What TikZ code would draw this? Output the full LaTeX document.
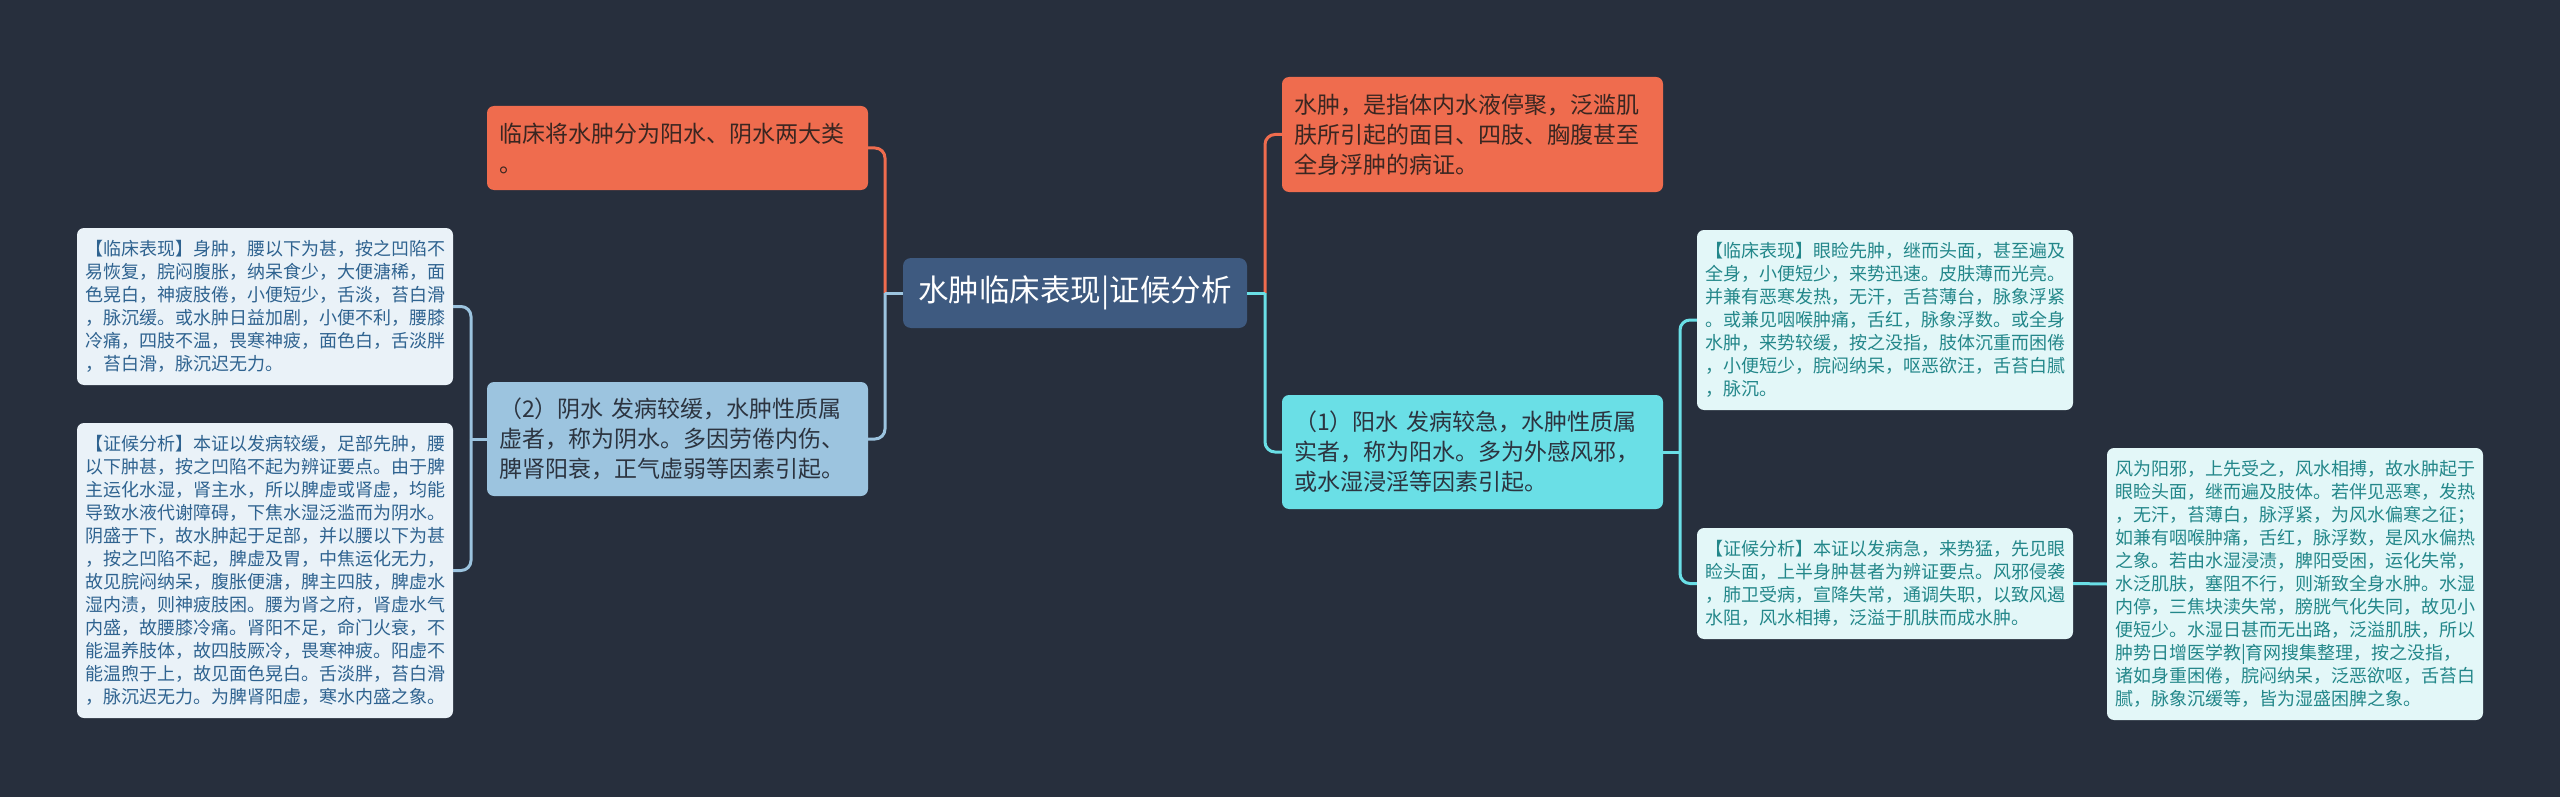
\documentclass[tikz,border=0pt]{standalone}
\usepackage{fontspec}
\setmainfont{Noto Sans CJK SC}
\definecolor{bg}{HTML}{272F3D}
\definecolor{cfill}{HTML}{3E5A80}
\definecolor{ofill}{HTML}{EF6C4E}
\definecolor{otext}{HTML}{3A2621}
\definecolor{bfill}{HTML}{9CC4DF}
\definecolor{btext}{HTML}{2C3440}
\definecolor{cyfill}{HTML}{6ADFE6}
\definecolor{lfill}{HTML}{EAF2F8}
\definecolor{ltext}{HTML}{2F6390}
\definecolor{rfill}{HTML}{E3F7F8}
\definecolor{rtext}{HTML}{23878A}
\tikzset{
  base/.style={rounded corners=7pt, inner sep=0pt, anchor=center},
  central/.style={base, fill=cfill, text=white, align=center, rounded corners=8pt,
    font=\fontsize{30.5pt}{36pt}\selectfont},
  midbox/.style={base, align=left, text width=357pt, minimum width=381pt,
    font=\fontsize{23pt}{30pt}\selectfont},
  obox/.style={midbox, fill=ofill, text=otext},
  bbox/.style={midbox, fill=bfill, text=btext},
  cbox/.style={midbox, fill=cyfill, text=btext},
  leaf/.style={base, align=left, text width=360pt, minimum width=376pt,
    font=\fontsize{18pt}{23pt}\selectfont},
  leafL/.style={leaf, fill=lfill, text=ltext},
  leafR/.style={leaf, fill=rfill, text=rtext},
  conn/.style={line width=3pt, rounded corners=10pt},
  oline/.style={conn, draw=ofill},
  bline/.style={conn, draw=bfill},
  cline/.style={conn, draw=cyfill},
}
\begin{document}
\begin{tikzpicture}[x=1pt,y=-1pt]
\useasboundingbox (0,0) rectangle (2560,797);
\fill[bg] (0,0) rectangle (2560,797);

% central
\node[central, minimum width=344pt, minimum height=70pt] (C) at (1075,293) {水肿临床表现|证候分析};

% left side
\node[obox, minimum height=84pt] (oL) at (677.5,148) {临床将水肿分为阳水、阴水两大类\\。};
\node[bbox, minimum height=114pt] (bL) at (677.5,439) {（2）阴水 发病较缓，水肿性质属\\虚者，称为阴水。多因劳倦内伤、\\脾肾阳衰，正气虚弱等因素引起。};

\node[leafL, minimum height=157pt] (L1) at (265,306.5) {【临床表现】身肿，腰以下为甚，按之凹陷不\\易恢复，脘闷腹胀，纳呆食少，大便溏稀，面\\色晃白，神疲肢倦，小便短少，舌淡，苔白滑\\，脉沉缓。或水肿日益加剧，小便不利，腰膝\\冷痛，四肢不温，畏寒神疲，面色白，舌淡胖\\，苔白滑，脉沉迟无力。};

\node[leafL, minimum height=295pt] (L2) at (265,570.5) {【证候分析】本证以发病较缓，足部先肿，腰\\以下肿甚，按之凹陷不起为辨证要点。由于脾\\主运化水湿，肾主水，所以脾虚或肾虚，均能\\导致水液代谢障碍，下焦水湿泛滥而为阴水。\\阴盛于下，故水肿起于足部，并以腰以下为甚\\，按之凹陷不起，脾虚及胃，中焦运化无力，\\故见脘闷纳呆，腹胀便溏，脾主四肢，脾虚水\\湿内渍，则神疲肢困。腰为肾之府，肾虚水气\\内盛，故腰膝冷痛。肾阳不足，命门火衰，不\\能温养肢体，故四肢厥冷，畏寒神疲。阳虚不\\能温煦于上，故见面色晃白。舌淡胖，苔白滑\\，脉沉迟无力。为脾肾阳虚，寒水内盛之象。};

% right side
\node[obox, minimum height=115pt] (oR) at (1472.5,134.5) {水肿，是指体内水液停聚，泛滥肌\\肤所引起的面目、四肢、胸腹甚至\\全身浮肿的病证。};
\node[cbox, minimum height=114pt] (cR) at (1472.5,452) {（1）阳水 发病较急，水肿性质属\\实者，称为阳水。多为外感风邪，\\或水湿浸淫等因素引起。};

\node[leafR, minimum height=180pt] (R1) at (1885,320) {【临床表现】眼睑先肿，继而头面，甚至遍及\\全身，小便短少，来势迅速。皮肤薄而光亮。\\并兼有恶寒发热，无汗，舌苔薄台，脉象浮紧\\。或兼见咽喉肿痛，舌红，脉象浮数。或全身\\水肿，来势较缓，按之没指，肢体沉重而困倦\\，小便短少，脘闷纳呆，呕恶欲汪，舌苔白腻\\，脉沉。};

\node[leafR, minimum height=111pt] (R2) at (1885,583.5) {【证候分析】本证以发病急，来势猛，先见眼\\睑头面，上半身肿甚者为辨证要点。风邪侵袭\\，肺卫受病，宣降失常，通调失职，以致风遏\\水阻，风水相搏，泛溢于肌肤而成水肿。};

\node[leafR, minimum height=272pt] (R3) at (2295,584) {风为阳邪，上先受之，风水相搏，故水肿起于\\眼睑头面，继而遍及肢体。若伴见恶寒，发热\\，无汗，苔薄白，脉浮紧，为风水偏寒之征；\\如兼有咽喉肿痛，舌红，脉浮数，是风水偏热\\之象。若由水湿浸渍，脾阳受困，运化失常，\\水泛肌肤，塞阻不行，则渐致全身水肿。水湿\\内停，三焦块渎失常，膀胱气化失同，故见小\\便短少。水湿日甚而无出路，泛溢肌肤，所以\\肿势日增医学教|育网搜集整理，按之没指，\\诸如身重困倦，脘闷纳呆，泛恶欲呕，舌苔白\\腻，脉象沉缓等，皆为湿盛困脾之象。};

% connectors
\coordinate (jl) at (885,293);
\coordinate (jr) at (1265,293);
\coordinate (jb) at (471,439);
\coordinate (jc) at (1680,452);

\draw[oline] (jl) |- (oL.east);
\draw[bline] (jl) |- (bL.east);
\draw[bline] (C.west) -- (jl);

\draw[oline] (jr) |- (oR.west);
\draw[cline] (jr) |- (cR.west);
\draw[cline] (C.east) -- (jr);

\draw[bline] (bL.west) -- (jb);
\draw[bline] (jb) |- (L1.east);
\draw[bline] (jb) |- (L2.east);

\draw[cline] (cR.east) -- (jc);
\draw[cline] (jc) |- (R1.west);
\draw[cline] (jc) |- (R2.west);
\draw[cline] (R2.east) -- (R3.west);
\end{tikzpicture}
\end{document}
